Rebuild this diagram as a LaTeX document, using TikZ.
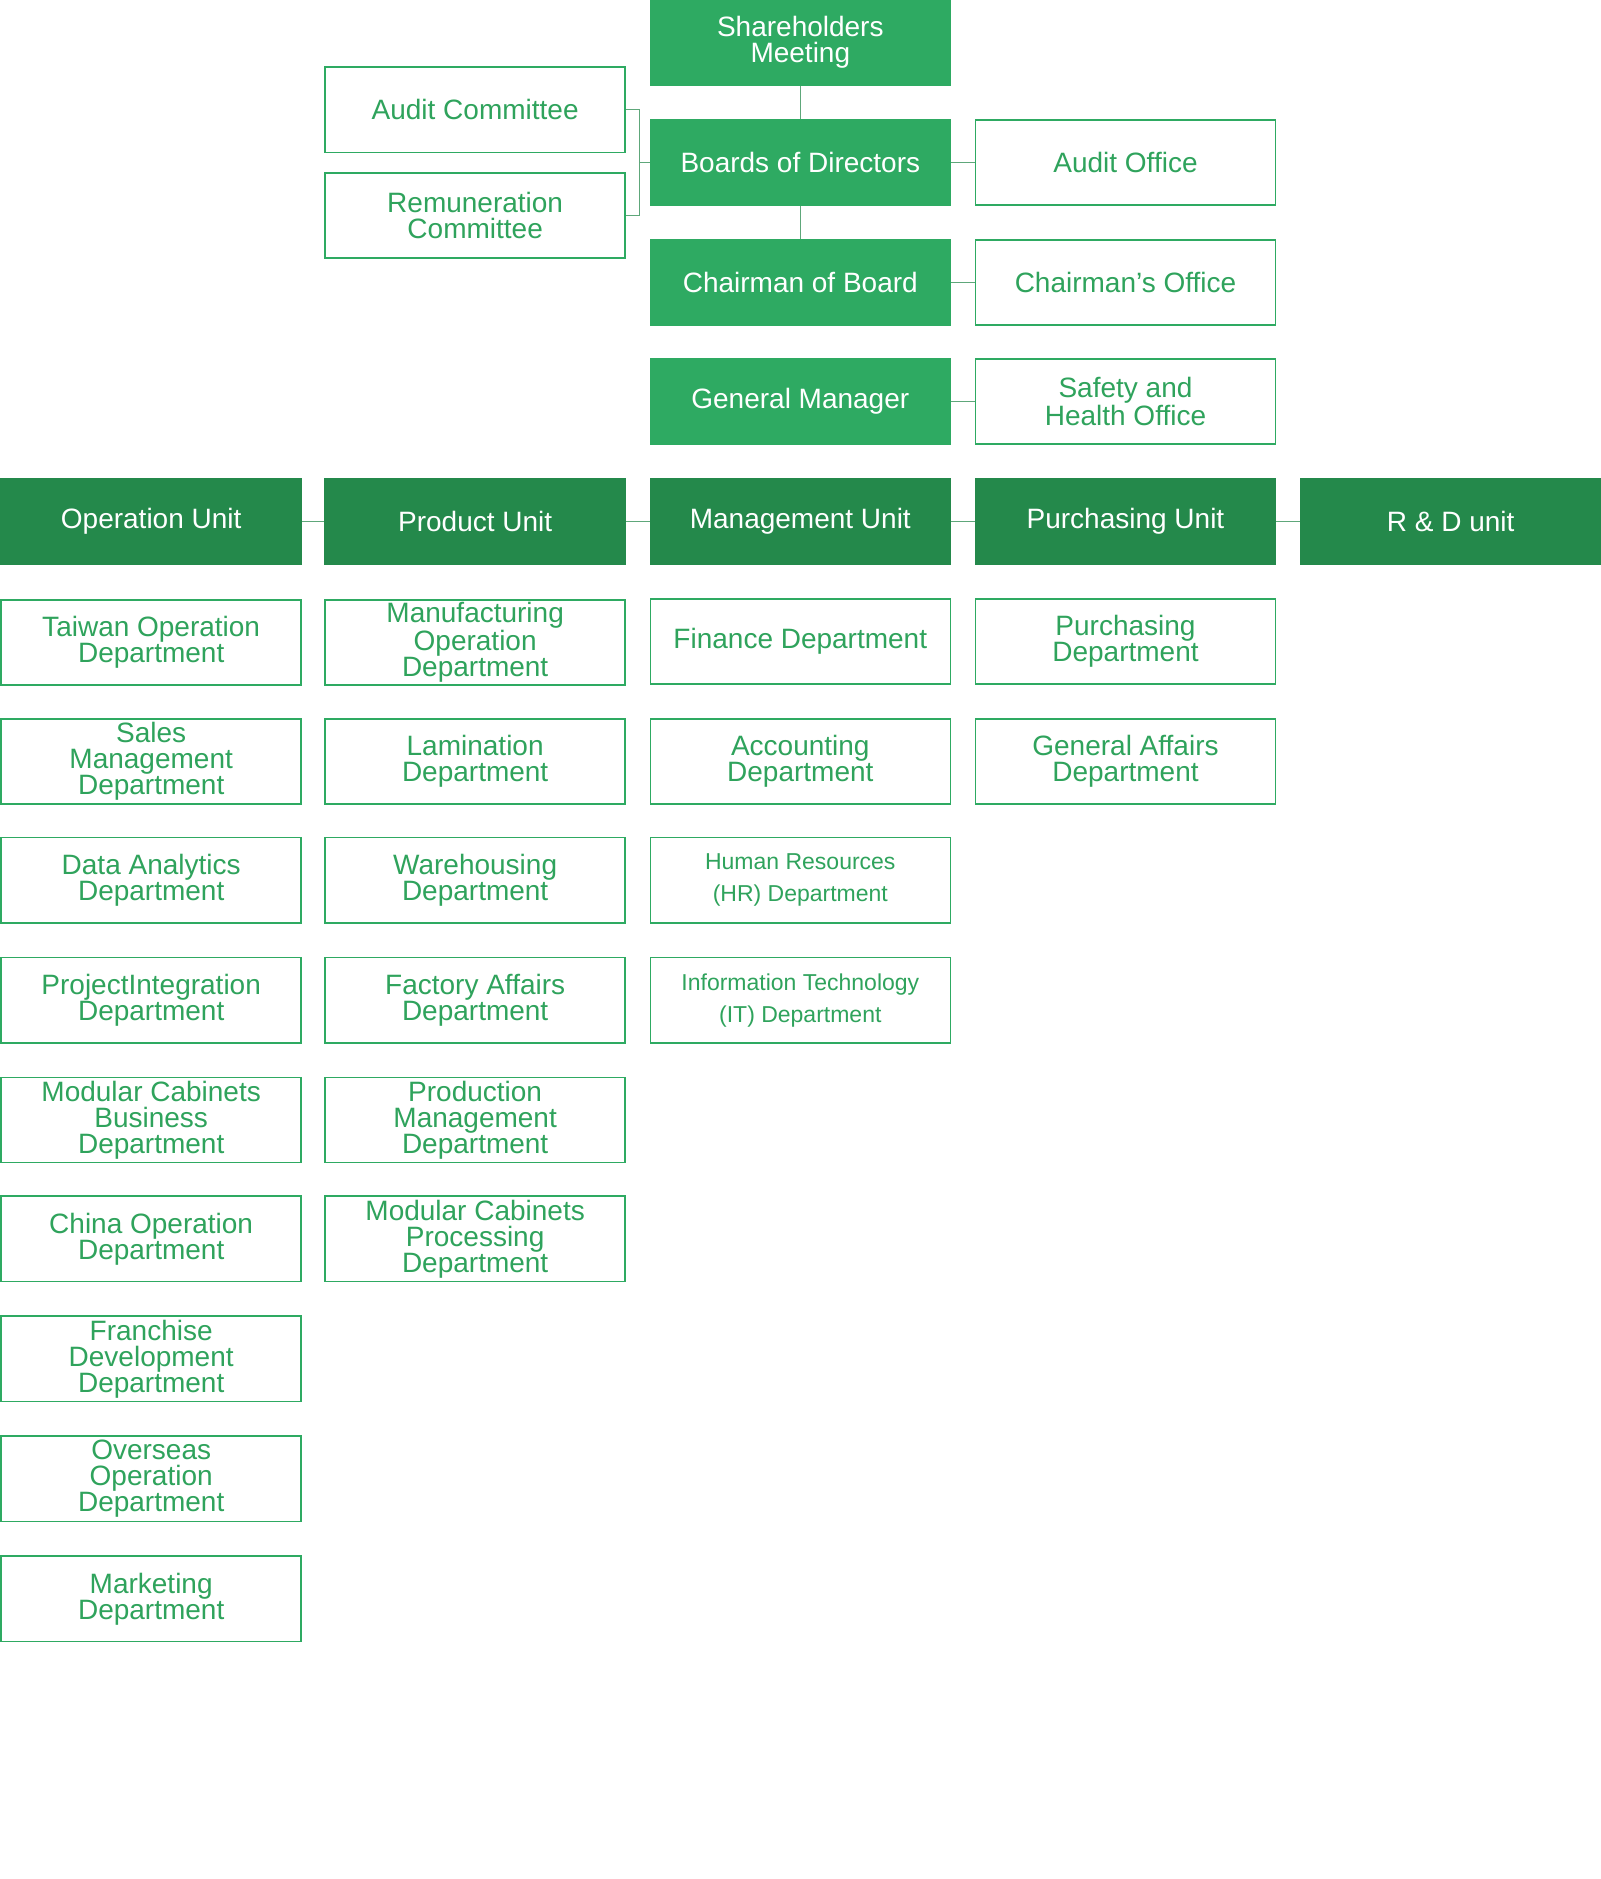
\documentclass[tikz,border=0pt]{standalone}
\usepackage{fontspec}
\setmainfont{Liberation Sans}
\definecolor{gfill}{HTML}{2EAA62}
\definecolor{gdark}{HTML}{24894B}
\definecolor{gtext}{HTML}{2FA35C}
\definecolor{gline}{HTML}{5EA77A}
\begin{document}
\begin{tikzpicture}[x=0.6pt,y=-0.6pt,
  base/.style={minimum width=150pt,minimum height=42.6pt,inner sep=0pt,align=center,font=\fontsize{14}{13}\selectfont,line width=0.8pt},
  solidbox/.style={base,fill=gfill,draw=gfill,text=white},
  unitbox/.style={base,fill=gdark,draw=gdark,text=white},
  linebox/.style={base,draw=gfill,fill=white,text=gtext},
  small/.style={font=\fontsize{11.5}{16}\selectfont},
  conn/.style={draw=gline,line width=0.7pt}]
\useasboundingbox (0,0) rectangle (1334,1566);
\def\cA{126}\def\cB{396}\def\cC{667}\def\cD{938}\def\cE{1209}
% top
\node[solidbox] (sh) at (\cC,35.5) {Shareholders\\Meeting};
\node[solidbox] (bd) at (\cC,135.5) {Boards of Directors};
\node[solidbox] (ch) at (\cC,235.5) {Chairman of Board};
\node[solidbox] (gm) at (\cC,334.5) {General Manager};
\node[linebox] (ac) at (\cB,91.5) {Audit Committee};
\node[linebox] (rc) at (\cB,179.5) {Remuneration\\Committee};
\node[linebox] (ao) at (\cD,135.5) {Audit Office};
\node[linebox] (co) at (\cD,235.5) {Chairman’s Office};
\node[linebox] (so) at (\cD,334.5) {Safety and\\Health Office};
% units
\node[unitbox] (u1) at (\cA,434.5) {Operation Unit};
\node[unitbox] (u2) at (\cB,434.5) {Product Unit};
\node[unitbox] (u3) at (\cC,434.5) {Management Unit};
\node[unitbox] (u4) at (\cD,434.5) {Purchasing Unit};
\node[unitbox] (u5) at (\cE,434.5) {R \& D unit};
% column A
\node[linebox] (a1) at (\cA,535.5) {Taiwan Operation\\Department};
\node[linebox] (a2) at (\cA,634.5) {Sales\\Management\\Department};
\node[linebox] (a3) at (\cA,733.5) {Data Analytics\\Department};
\node[linebox] (a4) at (\cA,833.5) {ProjectIntegration\\Department};
\node[linebox] (a5) at (\cA,933.5) {Modular Cabinets\\Business\\Department};
\node[linebox] (a6) at (\cA,1032.5) {China Operation\\Department};
\node[linebox] (a7) at (\cA,1132.5) {Franchise\\Development\\Department};
\node[linebox] (a8) at (\cA,1232.5) {Overseas\\Operation\\Department};
\node[linebox] (a9) at (\cA,1332.5) {Marketing\\Department};
% column B
\node[linebox] (b1) at (\cB,535.5) {Manufacturing\\Operation\\Department};
\node[linebox] (b2) at (\cB,634.5) {Lamination\\Department};
\node[linebox] (b3) at (\cB,733.5) {Warehousing\\Department};
\node[linebox] (b4) at (\cB,833.5) {Factory Affairs\\Department};
\node[linebox] (b5) at (\cB,933.5) {Production\\Management\\Department};
\node[linebox] (b6) at (\cB,1032.5) {Modular Cabinets\\Processing\\Department};
% column C
\node[linebox] (c1) at (\cC,534.5) {Finance Department};
\node[linebox] (c2) at (\cC,634.5) {Accounting\\Department};
\node[linebox,small] (c3) at (\cC,733.5) {Human Resources\\(HR) Department};
\node[linebox,small] (c4) at (\cC,833.5) {Information Technology\\(IT) Department};
% column D
\node[linebox] (d1) at (\cD,534.5) {Purchasing\\Department};
\node[linebox] (d2) at (\cD,634.5) {General Affairs\\Department};
% connectors
\draw[conn] (sh) -- (bd);
\draw[conn] (bd) -- (ch);
\draw[conn] (bd) -- (ao);
\draw[conn] (ch) -- (co);
\draw[conn] (gm) -- (so);
\coordinate (j) at (533,135.5);
\draw[conn] (ac.east) -| (j) |- (rc.east);
\draw[conn] (j) -- (bd.west);
\draw[conn] (u1) -- (u2);
\draw[conn] (u2) -- (u3);
\draw[conn] (u3) -- (u4);
\draw[conn] (u4) -- (u5);
\end{tikzpicture}
\end{document}
